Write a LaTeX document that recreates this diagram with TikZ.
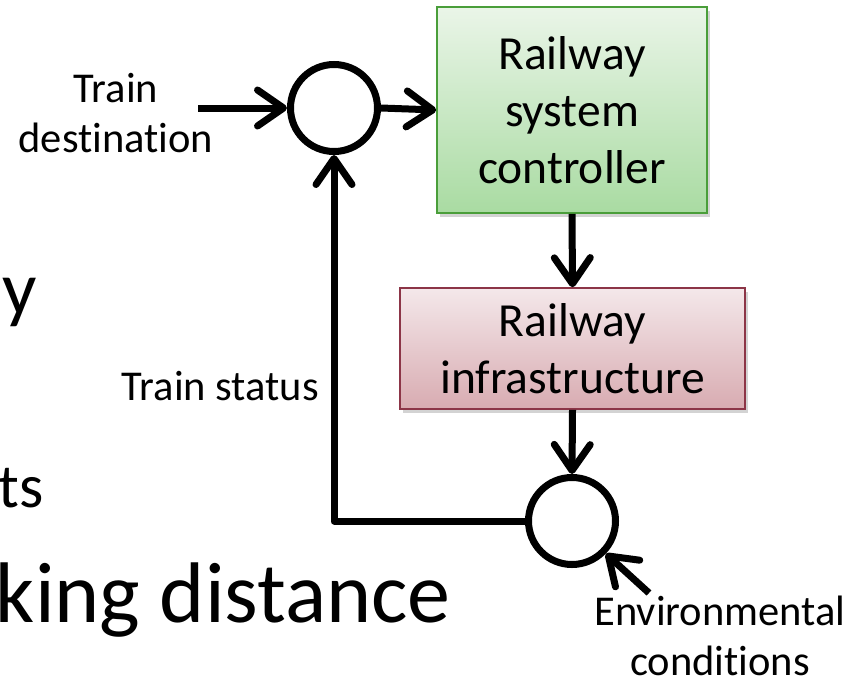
\documentclass[tikz,border=0pt]{standalone}
\usepackage{fontspec}
\setmainfont{Carlito}[Ligatures={NoCommon,NoContextual}]
\usetikzlibrary{arrows.meta,shadows}

\definecolor{ctrltop}{HTML}{EAF5E8}
\definecolor{ctrlbot}{HTML}{A9DBA2}
\definecolor{ctrlline}{HTML}{4A9E3A}
\definecolor{infratop}{HTML}{F4E8EA}
\definecolor{infrabot}{HTML}{D8ABB1}
\definecolor{infraline}{HTML}{8C3547}

\tikzset{
  flow/.style={line width=7pt, line join=round,
    -{Straight Barb[length=26pt,width=36pt,line cap=round,line join=round]}},
  junction/.style={circle, draw, line width=7pt, minimum size=87pt, inner sep=0pt, fill=white},
  blockbox/.style={rectangle, line width=1.6pt, align=center, inner sep=0pt,
    font=\fontsize{47.5}{57}\selectfont,
    drop shadow={shadow xshift=3pt, shadow yshift=-4pt, opacity=0.35, fill=gray}},
  ctrlbox/.style={blockbox, draw=ctrlline, top color=ctrltop, bottom color=ctrlbot},
  infrabox/.style={blockbox, draw=infraline, top color=infratop, bottom color=infrabot},
  sig/.style={font=\fontsize{42.5}{50}\selectfont, align=center, inner sep=0pt},
  slide/.style={font=\fontsize{#1}{#1}\selectfont, inner sep=0pt}
}

\begin{document}
\begin{tikzpicture}[x=1pt, y=-1pt]
\useasboundingbox (0,0) rectangle (850,685);

% slide text behind the diagram
\node[slide=76, anchor=base east] (bgy) at (37,314) {y};
\node[slide=62, anchor=base east] (bgts) at (44,507) {ts};
\node[slide=86, anchor=base east] (bgdist) at (451,622) {king distance};

% blocks and summing junctions
\node[junction] (sumin) at (334,108) {};
\node[ctrlbox, minimum width=270pt, minimum height=206pt] (ctrl) at (572,110)
  {Railway\\system\\controller};
\node[infrabox, minimum width=345pt, minimum height=121pt] (infra) at (572.5,348.5)
  {Railway\\infrastructure};
\node[junction] (sumout) at (572,521) {};

% signal labels
\node[sig] (dest) at (116,113) {Train\\destination};
\node[sig, anchor=base east] (status) at (319,400) {Train status};
\node[sig] (env) at (720,636) {Environmental\\conditions};

% free ends of the input arrows
\coordinate (destin) at (198,108);
\coordinate (envin) at (649,593);

% connectors
\draw[flow] (destin) -- (sumin.west);
\draw[flow] (sumin.east) -- (ctrl.west);
\draw[flow] (ctrl.south) -- (infra.north);
\draw[flow] (infra.south) -- (sumout.north);
\draw[flow] (sumout.west) -| (sumin.south);
\draw[flow] (envin) -- (sumout.-44);
\end{tikzpicture}
\end{document}
